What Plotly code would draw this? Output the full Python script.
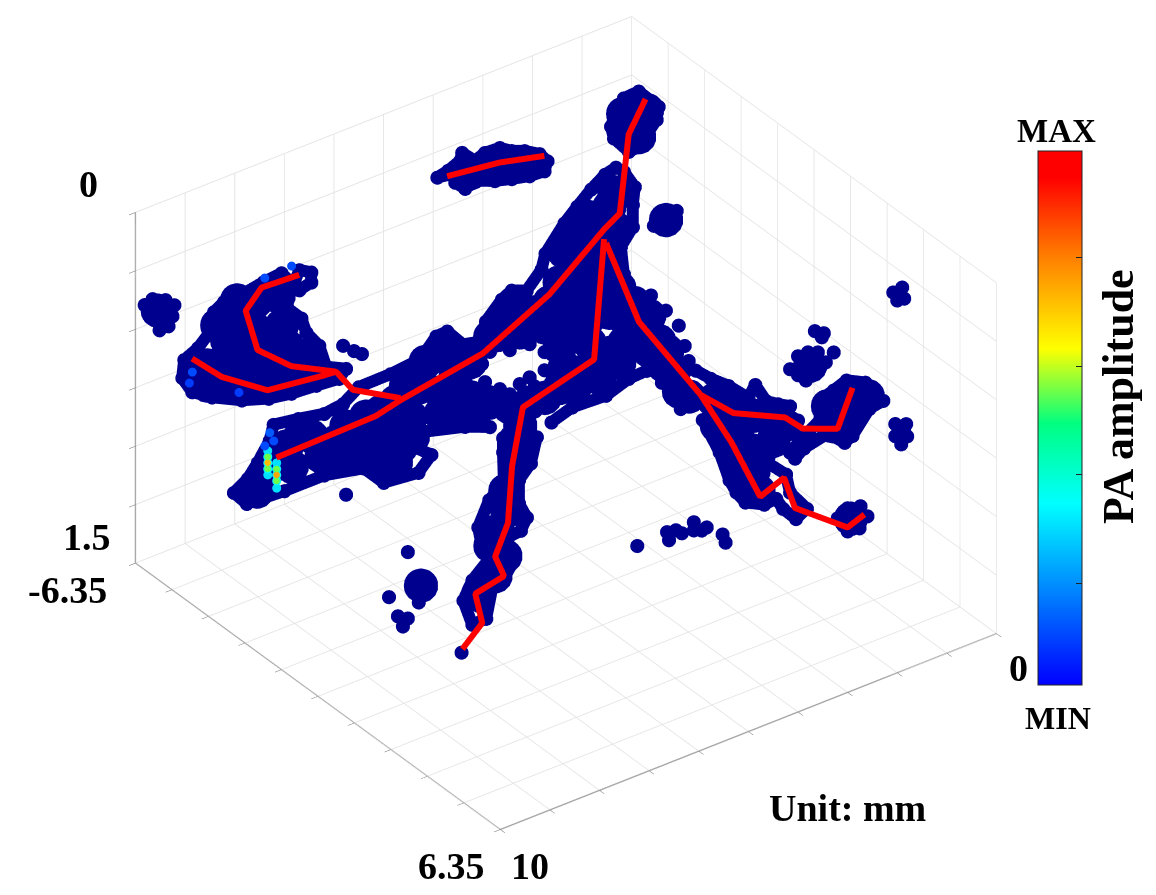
import plotly.graph_objects as go

# Vessel centre lines (x mm, y mm, depth mm)
branches = {
 "trunk": ([8.26,6.26,5.76,4.10,2.76,1.66,1.34,1.16,0.82],[-4.45]*9,[1.024,1.014,0.988,0.927,0.787,0.602,0.560,0.236,0.114]),
 "left1": ([9.96,9.36,8.44,7.30,7.06,6.72,5.76],[-4.45]*7,[0.458,0.587,0.721,0.753,0.757,0.863,0.979]),
 "left2": ([7.80,8.56,8.88,8.64,7.96,7.06],[-4.45]*6,[0.281,0.272,0.344,0.532,0.658,0.757]),
 "center": ([2.56,2.76,7.20,7.42,7.50,7.76,7.58,8.16,8.02,8.42],[-2.89,-2.89,2.30,2.30,2.30,2.30,2.30,2.30,2.30,2.30],[0.427,0.925,0.292,0.527,0.761,0.884,0.982,1.009,1.146,1.224]),
 "right": ([2.52,4.26,5.62,5.00,4.42,3.94,3.72,2.66,2.32],[-2.89,1.26,5.76,5.76,5.76,5.76,5.76,5.76,5.76],[0.447,0.266,0.061,0.316,0.597,0.556,0.704,0.876,0.849]),
 "right2": ([5.62,4.96,3.92,3.56,2.86,2.56],[5.76]*6,[0.061,0.194,0.300,0.378,0.437,0.287]),
 "island": ([4.82,3.76,2.86],[-4.45]*3,[0.109,0.139,0.186]),
}

# Low-amplitude points, by depth slice y (small spots)
a_x=[9.98,9.82,9.56,9.38,9.42,9.62,9.68,9.50,9.86,9.72]
a_z=[.372,.360,.386,.423,.467,.476,.505,.503,.408,.424]

b_x=[7.44,7.20,7.20,7.44,7.80,8.16,8.54,8.96,9.16,9.24,9.48,9.76,9.80,9.60,9.20,8.60,8.06,7.60,7.10,6.64,6.50,6.90,7.04,7.30,7.40,7.68,7.66,6.56,6.34,6.18,
 7.96,7.46,6.94,6.56,6.24,5.60,5.00,4.68,4.46,4.14,3.80,3.68,3.36,3.16,2.86,2.56,2.48,2.10,1.84,1.56,1.28,1.06,.90,.68,.72,.72,.96,.90,
 8.04,8.28,8.48,8.76,8.50,7.74,6.94,6.14,5.74,5.04,4.78,5.10,4.90,4.10,3.60,
 3.60,3.20,2.80,2.50,2.50,2.80,3.40,3.00,3.76,3.70,
 .44,.80,1.26,1.94,2.36,
 .60,.90,1.06,.20,.24,1.16,1.10,.80,.56,.40,
 4.66,4.44,4.20,4.16,3.90,3.70,3.40,3.16,2.90,2.60,2.44,2.50,2.80,3.16,3.50,3.86,4.10,4.30,4.00,3.60,3.20,2.80,
 6.50,2.70,3.20,3.40]
b_z=[.346,.376,.419,.432,.329,.337,.352,.355,.381,.460,.508,.536,.610,.687,.743,.806,.844,.861,.869,.878,.847,.805,.703,.625,.556,.489,.448,.743,.784,.810,
 .964,.981,1.003,.993,.947,.945,.932,.861,.858,.941,.957,.881,.814,.792,.818,.753,.691,.594,.544,.494,.454,.442,.473,.557,.630,.725,.790,.911,
 1.026,1.100,1.152,1.188,1.257,1.266,1.266,1.303,1.398,1.414,1.359,1.302,1.250,1.296,1.339,
 1.017,1.043,1.051,1.110,1.188,1.193,1.193,1.205,1.055,1.138,
 1.363,1.367,1.401,1.394,1.423,
 .155,.159,.210,.254,.306,.258,.314,.396,.394,.344,
 .183,.172,.150,.119,.175,.158,.162,.195,.217,.255,.299,.337,.333,.315,.295,.264,.278,.235,.209,.222,.256,.277,
 1.385,1.240,1.232,1.004]

c_x=[5.92,6.04,6.28,6.28,6.12,6.24,6.54,6.38,6.56,6.82,6.94,7.22,7.40,7.22,6.90,7.00,7.10,6.88,6.58,6.60,6.60,7.10,6.90,
 8.52,8.26,8.10,8.36,8.14,8.30,8.90,8.72,8.52,8.62,3.06,2.94,2.86,3.02,3.40,3.32,3.62]
c_z=[.682,.784,.836,.935,1.009,1.055,1.064,1.171,1.225,1.254,1.373,1.375,1.257,1.186,1.127,1.085,.969,.871,.824,.689,.629,1.304,1.299,
 .955,1.098,1.111,1.141,1.159,1.189,1.116,1.213,1.239,1.265,.444,.541,.612,.804,.660,.358,.268]

d_x=[4.72,4.42,4.06,3.66,3.52,3.30,3.06,2.82,2.94,2.66,2.86,3.18,3.26,2.90,2.82,2.48,2.70,2.96,3.10,3.34,3.72,3.90,4.04,4.24,4.58,
 2.20,1.94,1.68,1.30,1.12,.94,1.22,1.56,1.72,2.06,2.54,2.72,2.82,2.54,2.22,2.22,2.36,2.10,
 .74,.56,.52,.66,2.32,2.14,2.18,2.82,2.66,2.46,2.26,1.94,2.66,2.50,2.30,2.10,2.60,2.36,
 .70,.48,.70,.46,.58,1.86,1.66,1.40,1.26,1.42,1.66,1.60,5.90,5.30,5.12,5.26,4.76,4.60,4.50,4.76,4.18,4.12,
 .52,5.00]
d_z=[.187,.247,.308,.393,.349,.437,.470,.499,.515,.573,.607,.645,.706,.784,.868,.966,.991,.926,.871,.876,.835,.777,.713,.576,.410,
 .522,.505,.484,.525,.588,.633,.644,.731,.747,.680,.703,.731,.697,.652,.610,.559,.676,.621,
 .186,.180,.231,.227,.219,.243,.257,.340,.298,.298,.315,.342,.379,.415,.397,.371,.350,.349,
 .752,.771,.804,.825,.849,1.058,1.032,1.045,1.100,1.138,1.131,1.080,.838,.829,.836,.867,.832,.881,.876,.867,.933,.973,
 .798,.859]

e_x=[2.56,2.36,2.16,2.10]
e_z=[.214,.218,.205,.189]
f_x=[8.04]
f_z=[1.332]

# Core of the vessels (large spots)
ab_x=[9.72]
ab_z=[.416]
bb_x=[8.84,8.30,8.10,8.70,9.30,8.60,8.00,7.40,9.30,7.70,7.70,7.20,7.60,7.00,6.50,6.40,5.80,5.90,5.30,5.20,5.50,4.50,4.00,4.60,4.00,4.60,3.90,3.20,2.50,1.90,1.40,1.00,3.30,2.70,3.00,3.60,2.20,2.00,1.60,2.20,1.60,2.10,1.40,1.60,1.20,1.10,1.20,.60,.90,1.00,.70,.84,5.50,
 8.90,8.40,7.80,8.30,7.80,8.90,9.00,9.50,8.30,7.70,7.20,8.70,7.90,9.10,
 7.40,8.10,8.30,6.70,6.70,6.10,6.20,5.50,5.00,4.90,5.16,5.40,5.80,4.30,4.30,3.60,2.80,2.20,2.10,1.60,1.20,1.60,2.50,2.40,3.10,1.90,1.80,1.20,1.84,1.10,1.30,.70,.60,.90,2.00,
 .44,.92,.60,4.00,3.40,2.86]
bb_z=[.421,.402,.569,.583,.596,.720,.750,.715,.682,.647,1.076,1.076,1.171,1.179,1.092,1.208,1.088,1.208,1.023,1.160,1.328,.940,1.026,1.104,1.176,1.198,1.249,1.287,1.304,1.312,1.312,1.281,.914,.922,.982,.952,1.115,.981,1.144,.835,.886,.715,.753,.607,.598,.542,1.049,1.143,1.204,.959,.254,.306,1.199,
 .523,.501,.552,.660,.703,.630,.708,.609,.767,.797,.775,.368,.415,.441,
 1.046,1.150,1.219,1.140,1.192,1.083,1.161,1.070,1.048,.949,1.250,1.272,1.303,1.065,1.194,1.232,1.300,1.287,1.209,1.251,1.221,1.037,1.003,.904,.866,.904,.783,.856,.673,.692,.976,1.049,1.229,1.096,1.067,
 .246,.222,.348,.218,.239,.276]
cb_x=[6.32,6.52,6.72,6.76,6.26,3.16,3.06,3.30,3.66,3.46,3.66,6.36,6.56,6.86,6.56,7.10,2.86,3.36,8.26]
cb_z=[.747,.945,1.014,1.204,.602,.629,.724,.531,.501,.475,.350,.657,.856,1.066,1.135,1.248,.762,.590,1.119]
db_x=[4.06,3.56,3.16,3.86,3.56,3.56,3.66,1.76,1.76,1.46,4.36,4.16,3.16,3.90,3.46,4.30,2.96,1.96,1.26,2.06,2.42,1.60]
db_z=[.411,.475,.530,.556,.625,.711,.767,.585,.649,.581,.342,.488,.616,.639,.806,.455,.569,.654,.584,.560,.357,1.080]
eb_x=[2.32]
eb_z=[.208]

# Higher-amplitude spots
hot_x=[8.28,8.28,8.28,8.28,8.28,8.10,8.10,8.10,8.10,8.10,8.24,8.16,8.34,9.86,9.80,8.86,8.34,7.80]
hot_y=[-4.72]*18
hot_z=[1.017,1.043,1.069,1.095,1.120,1.084,1.110,1.136,1.161,1.192,.943,.985,.991,.595,.553,.719,.273,.267]
hot_v=[.3,.34,.34,.34,.3,.3,.34,.34,.34,.3,.12,.1,.1,.08,.1,.08,.1,.1]
core_x=[8.34,8.34,8.34,8.16,8.16,8.16]
core_y=[-4.62]*6
core_z=[1.029,1.054,1.080,1.096,1.121,1.147]
core_v=[.55,.72,.55,.55,.75,.55]

JET = [[0,"#0000ff"],[0.17,"#0080ff"],[0.34,"#00ffff"],[0.49,"#00ff80"],[0.63,"#ffff00"],[0.8,"#ff8000"],[0.95,"#ff0000"],[1,"#ff0000"]]
NAVY="#00008f"
W=1148;H=887
fig = go.Figure()
def dots(x,yv,z,size):
    fig.add_trace(go.Scatter3d(x=x,y=[yv]*len(x),z=z,mode="markers",showlegend=False,hoverinfo="skip",
        marker=dict(size=size,color=NAVY,line=dict(width=0))))
def rim(x,yv,z,idx):
    fig.add_trace(go.Scatter3d(x=[x[i] for i in idx],y=[yv]*len(idx),z=[z[i] for i in idx],mode="lines",showlegend=False,hoverinfo="skip",
        line=dict(color=NAVY,width=24)))
SMALL=8.2;BIG=20
dots(a_x,-6.07,a_z,SMALL)
dots(b_x,-5.07,b_z,SMALL)
dots(c_x,0.57,c_z,SMALL)
dots(d_x,4.03,d_z,SMALL)
dots(e_x,-1.16,e_z,SMALL)
dots(f_x,1.61,f_z,SMALL)
dots(ab_x,-6.07,ab_z,BIG)
dots(bb_x,-5.07,bb_z,BIG)
dots(cb_x,0.57,cb_z,BIG)
dots(db_x,4.03,db_z,BIG)
dots(eb_x,-1.16,eb_z,BIG)
rim(b_x,-5.07,b_z,list(range(0,27))+[0])
rim(b_x,-5.07,b_z,list(range(30,58)))
rim(b_x,-5.07,b_z,[30]+list(range(58,73)))
rim(b_x,-5.07,b_z,list(range(83,88)))
rim(b_x,-5.07,b_z,[88,89,90,93,94,95,96,97,92,91,88])
rim(b_x,-5.07,b_z,list(range(98,118))+[98])
rim(c_x,0.57,c_z,list(range(0,21)))
rim(d_x,4.03,d_z,list(range(0,25)))
rim(d_x,4.03,d_z,list(range(25,41)))
for n,(x,y,z) in branches.items():
    fig.add_trace(go.Scatter3d(x=x,y=y,z=z,mode="lines",line=dict(color="#ff0000",width=12),showlegend=False,name=n))
fig.add_trace(go.Scatter3d(x=hot_x,y=hot_y,z=hot_z,mode="markers",showlegend=False,
    marker=dict(size=5.2,color=hot_v,cmin=0,cmax=1,colorscale=JET,line=dict(width=0),
      colorbar=dict(x=(1038-8)/W,xanchor="left",xpad=0,ypad=0,thickness=44,thicknessmode="pixels",len=534,lenmode="pixels",
        y=1-(418-8)/H,yanchor="middle",outlinecolor="#222",outlinewidth=1,tickvals=[0.19,0.395,0.597,0.8],ticktext=["","","",""],ticks="inside",ticklen=6,tickcolor="#222"))))
fig.add_trace(go.Scatter3d(x=core_x,y=core_y,z=core_z,mode="markers",showlegend=False,
    marker=dict(size=3.8,color=core_v,cmin=0,cmax=1,colorscale=JET,showscale=False,line=dict(width=0))))
ax=dict(showbackground=True,backgroundcolor="#ffffff",gridcolor="#e4e4e4",gridwidth=2,showline=True,linecolor="#a8a8a8",linewidth=3,
        zeroline=False,showspikes=False,ticks="outside",ticklen=8,tickcolor="#666",showticklabels=False,title=dict(text=""))
S=1.484
sc=dict(domain=dict(x=[0,1116/W],y=[(H-830-57)/H+57/H,1]),
  xaxis=dict(ax,range=[0,10],tickvals=[i for i in range(11)]),
  yaxis=dict(ax,range=[-6.35,6.35],tickvals=[-6.35+1.27*i for i in range(11)]),
  zaxis=dict(ax,range=[1.5,0],tickvals=[0,0.25,0.5,0.75,1,1.25,1.5]),
  aspectmode="manual",aspectratio=dict(x=S,y=S,z=0.675*S),
  camera=dict(projection=dict(type="orthographic"),eye=dict(x=0.5557,y=0.7558,z=0.5971),center=dict(x=0,y=0,z=0),up=dict(x=0,y=0,z=1)))
def lab(t,x,y,s=38,a=0):
    return dict(text="<b>%s</b>"%t,x=(x-8)/W,y=1-(y-8)/H,xref="paper",yref="paper",xanchor="center",yanchor="middle",textangle=a,showarrow=False,font=dict(family="Liberation Serif",size=s,color="#000"))
anns=[lab("0",88,184),lab("1.5",87,537),lab("-6.35",67,590),lab("6.35",451,866),lab("10",530,866),lab("0",1018,668),lab("Unit: mm",847,808),lab("MAX",1056,131,33),lab("MIN",1058,718,32),lab("PA amplitude",1118,397,44,-90)]
fig.update_layout(width=W,height=H,margin=dict(l=0,r=0,t=0,b=0,autoexpand=False),paper_bgcolor="#fff",scene=sc,annotations=anns)
fig.write_html("out.html")
